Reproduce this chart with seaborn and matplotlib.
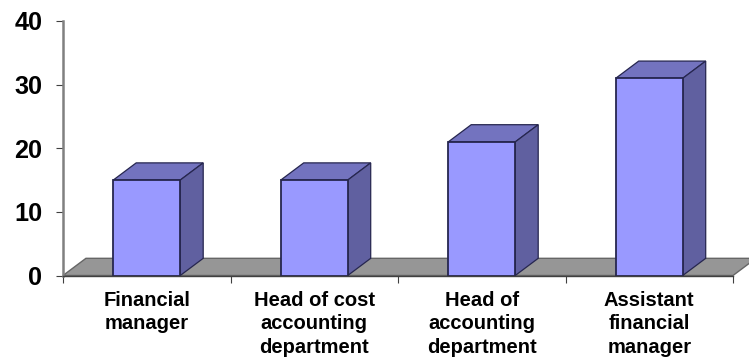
import matplotlib
matplotlib.use("Agg")
import matplotlib.pyplot as plt
from matplotlib.patches import Polygon
import seaborn as sns
import pandas as pd

categories = ["Financial\nmanager", "Head of cost\naccounting\ndepartment",
              "Head of\naccounting\ndepartment", "Assistant\nfinancial\nmanager"]
values = [15, 15, 21, 31]
y_ticks = [0, 10, 20, 30, 40]

FRONT = "#9999FF"
TOP = "#7373BF"
SIDE = "#6060A0"
FLOOR = "#969696"
EDGE = "#26264F"
BAR_WIDTH = 0.4
DEPTH_X = 0.137   # oblique offset of the back faces, category units
DEPTH_Y = 2.7     # oblique offset of the back faces, value units

sns.set_theme(style="white", rc={"font.family": ["Liberation Sans"], "font.weight": "bold"})
plt.rcParams["font.family"] = ["Liberation Sans", "DejaVu Sans"]

W, H = 749, 361
fig = plt.figure(figsize=(W / 100, H / 100), dpi=100, facecolor="white")
ax = fig.add_axes([63 / W, 1 - 275.5 / H, 670 / W, 254.5 / H])

df = pd.DataFrame({"role": categories, "count": values})
sns.barplot(data=df, x="role", y="count", color=FRONT, saturation=1, width=BAR_WIDTH,
            edgecolor=EDGE, linewidth=1.3, ax=ax, zorder=4)

ax.set_xlim(-0.5, 3.5)
ax.set_ylim(0, 40)
ax.set_xlabel("")
ax.set_ylabel("")

# Floor of the oblique projection, behind the columns
ax.add_patch(Polygon([(-0.5, 0), (-0.5 + DEPTH_X, DEPTH_Y), (3.5 + DEPTH_X, DEPTH_Y), (3.5, 0)],
                     closed=True, facecolor=FLOOR, edgecolor="#666666", linewidth=1,
                     clip_on=False, zorder=1))

# Top and side faces of each column
for i, v in enumerate(values):
    x0, x1 = i - BAR_WIDTH / 2, i + BAR_WIDTH / 2
    ax.add_patch(Polygon([(x0, v), (x0 + DEPTH_X, v + DEPTH_Y), (x1 + DEPTH_X, v + DEPTH_Y), (x1, v)],
                         closed=True, facecolor=TOP, edgecolor=EDGE, linewidth=0.9,
                         clip_on=False, zorder=3))
    ax.add_patch(Polygon([(x1, 0), (x1 + DEPTH_X, DEPTH_Y), (x1 + DEPTH_X, v + DEPTH_Y), (x1, v)],
                         closed=True, facecolor=SIDE, edgecolor=EDGE, linewidth=0.9,
                         clip_on=False, zorder=3))

for side in ("top", "right"):
    ax.spines[side].set_visible(False)
ax.spines["left"].set_color("#808080")
ax.spines["left"].set_linewidth(1.8)
ax.spines["bottom"].set_color("#404040")
ax.spines["bottom"].set_linewidth(1)
ax.spines["bottom"].set_zorder(5)

ax.set_yticks(y_ticks)
ax.set_xticks([-0.5, 0.5, 1.5, 2.5, 3.5], labels=[""] * 5)
ax.tick_params(axis="y", left=True, length=5, width=0.8, color="#404040", labelsize=18.2, pad=10, labelcolor="black")
ax.tick_params(axis="x", bottom=True, length=5, width=0.8, color="#404040")

# Category names sit between the tick marks
for i, name in enumerate(categories):
    ax.annotate(name, xy=(i, 0), xycoords="data", xytext=(0, -11), textcoords="offset points",
                ha="center", va="top", fontsize=14.5, fontweight="bold", color="black",
                linespacing=1.3)

for lab in ax.get_yticklabels():
    lab.set_fontweight("bold")

fig.savefig("out.png", dpi=100, facecolor="white")
